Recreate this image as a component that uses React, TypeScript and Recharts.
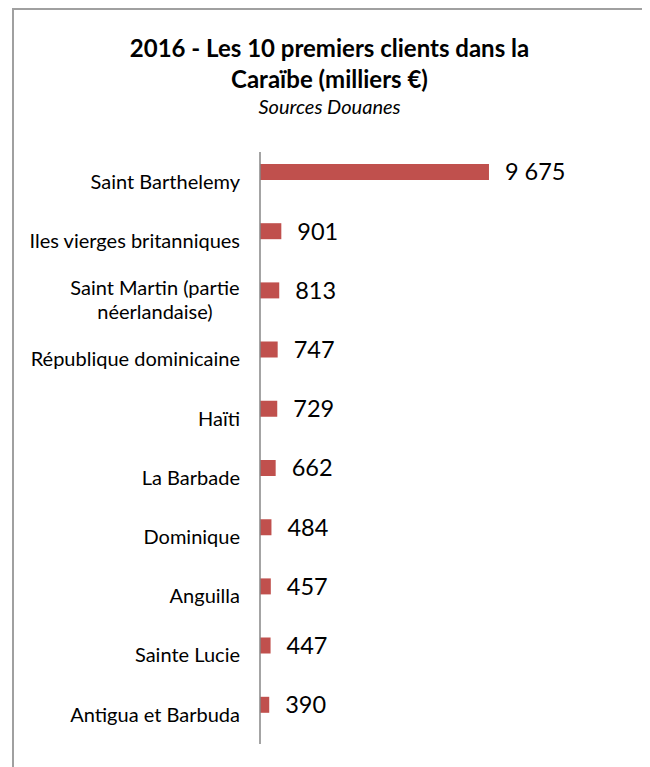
import { BarChart, Bar, XAxis, YAxis, LabelList } from 'recharts';

const categories = [
  'Saint Barthelemy',
  'Iles vierges britanniques',
  'Saint Martin (partie\nnéerlandaise)',
  'République dominicaine',
  'Haïti',
  'La Barbade',
  'Dominique',
  'Anguilla',
  'Sainte Lucie',
  'Antigua et Barbuda',
];

const valeurs = [9675, 901, 813, 747, 729, 662, 484, 457, 447, 390];

// the source chart keeps a second, empty series, which pushes the bars up in each band
const serieVide = [null, null, null, null, null, null, null, null, null, null];

const data = categories.map((pays, i) => ({
  pays,
  valeur: valeurs[i],
  vide: serieVide[i],
}));

const FONT = 'Lato, "Open Sans", sans-serif';

const formatMilliers = (v: number) =>
  String(v).replace(/\B(?=(\d{3})+(?!\d))/g, ' ');

function PaysTick(props: any) {
  const { x, y, payload } = props;
  const lines: string[] = String(payload.value).split('\n');
  if (lines.length === 1) {
    return (
      <text x={x} y={y} dy="0.355em" textAnchor="end" fontSize={20} fill="#000" fontFamily={FONT}>
        {lines[0]}
      </text>
    );
  }
  return (
    <text x={x - 85} y={y} textAnchor="middle" fontSize={20} fill="#000" fontFamily={FONT}>
      {lines.map((l, i) => (
        <tspan key={i} x={x - 85} y={y + (i - (lines.length - 1) / 2) * 24} dy="0.355em">
          {l}
        </tspan>
      ))}
    </text>
  );
}

export default function App() {
  return (
    <div
      style={{
        position: 'relative',
        width: 635,
        height: 770,
        marginLeft: 4,
        border: '2px solid #a0a0a0',
        boxSizing: 'border-box',
        background: '#fff',
        fontFamily: FONT,
      }}
    >
      <div
        style={{
          position: 'absolute',
          top: 22,
          left: 0,
          width: 631,
          textAlign: 'center',
          fontWeight: 700,
          fontSize: 24,
          lineHeight: '31px',
          color: '#000',
        }}
      >
        2016 - Les 10 premiers clients dans la
        <br />
        Caraïbe (milliers €)
      </div>
      <div
        style={{
          position: 'absolute',
          top: 84,
          left: 0,
          width: 631,
          textAlign: 'center',
          fontStyle: 'italic',
          fontSize: 20,
          color: '#000',
        }}
      >
        Sources Douanes
      </div>
      <div style={{ position: 'absolute', top: 0, left: 0 }}>
        <BarChart
          width={629}
          height={760}
          data={data}
          layout="vertical"
          margin={{ top: 142, right: 99, bottom: 26, left: 0 }}
          barSize={16}
          barGap={3}
        >
          <XAxis type="number" domain={[0, 12000]} hide />
          <YAxis
            type="category"
            dataKey="pays"
            width={246}
            axisLine={{ stroke: '#868686', strokeWidth: 1.5 }}
            tickLine={false}
            tickSize={0}
            tickMargin={20}
            interval={0}
            tick={<PaysTick />}
          />
          <Bar dataKey="valeur" fill="#C0504D" isAnimationActive={false}>
            <LabelList
              dataKey="valeur"
              position="right"
              offset={16}
              formatter={(v: any) => formatMilliers(Number(v))}
              style={{ fontSize: 23.5, fill: '#000', fontFamily: FONT }}
            />
          </Bar>
          <Bar dataKey="vide" fill="#4F81BD" isAnimationActive={false} />
        </BarChart>
      </div>
    </div>
  );
}
